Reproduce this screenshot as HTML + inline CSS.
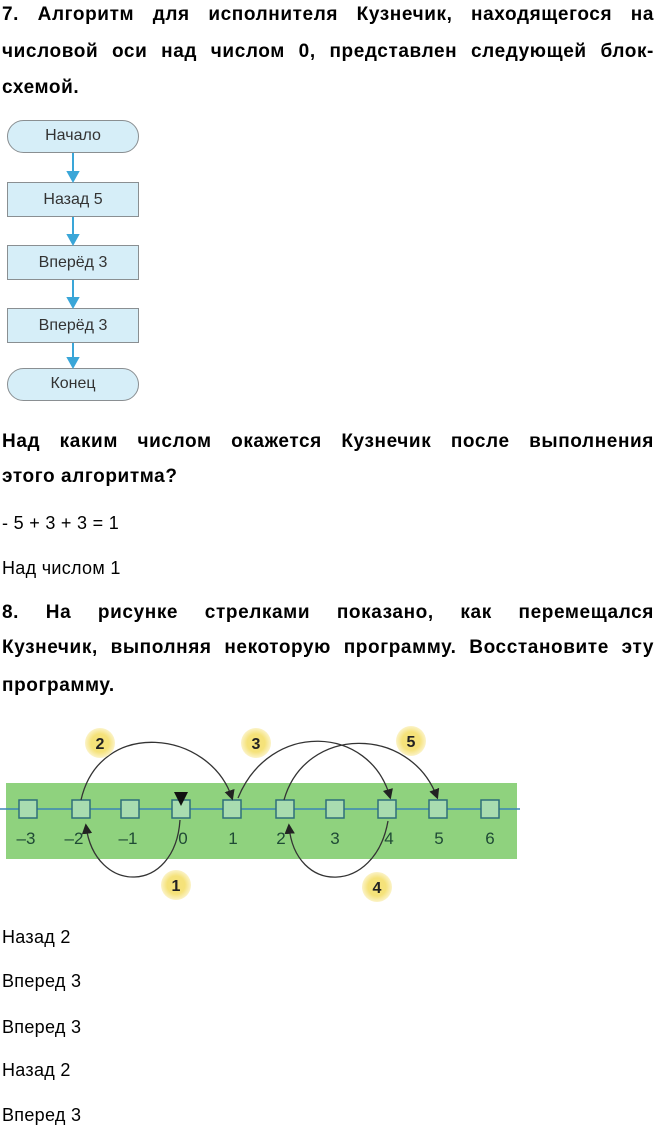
<!DOCTYPE html>
<html><head><meta charset="utf-8"><style>
body{margin:0;width:656px;height:1130px;background:#fff;position:relative;overflow:hidden;font-family:"Liberation Sans","DejaVu Sans",sans-serif;color:#000}
.l{position:absolute;left:2px;width:652px;height:24px;line-height:24px;white-space:nowrap}
.b{font-weight:bold;font-size:19px;letter-spacing:0.6px}
.j{text-align:justify;text-align-last:justify;white-space:normal}
.n{font-size:18px;letter-spacing:0.3px}
.fc{position:absolute;left:7px;width:132px;background:#d6eef8;border:1.5px solid #8a8f92;box-sizing:border-box;text-align:center;font-size:16px;color:#333}
</style></head><body>
<div class="l b j" style="top:3px">7. Алгоритм для исполнителя Кузнечик, находящегося на</div>
<div class="l b j" style="top:40px">числовой оси над числом 0, представлен следующей блок-</div>
<div class="l b" style="top:76px">схемой.</div>

<div class="fc" style="top:120px;height:33px;line-height:30px;border-radius:17px">Начало</div>
<div class="fc" style="top:182px;height:35px;line-height:33px">Назад 5</div>
<div class="fc" style="top:245px;height:35px;line-height:33px">Вперёд 3</div>
<div class="fc" style="top:308px;height:35px;line-height:33px">Вперёд 3</div>
<div class="fc" style="top:368px;height:33px;line-height:30px;border-radius:17px">Конец</div>
<svg style="position:absolute;left:0;top:0" width="160" height="420">
<g stroke="#3aa6d8" stroke-width="2" fill="#3aa6d8">
<line x1="73" y1="153" x2="73" y2="176"/><path d="M68 172 L78 172 L73 181Z"/>
<line x1="73" y1="217" x2="73" y2="239"/><path d="M68 235 L78 235 L73 244Z"/>
<line x1="73" y1="280" x2="73" y2="302"/><path d="M68 298 L78 298 L73 307Z"/>
<line x1="73" y1="343" x2="73" y2="362"/><path d="M68 358 L78 358 L73 367Z"/>
</g></svg>

<div class="l b j" style="top:430px">Над каким числом окажется Кузнечик после выполнения</div>
<div class="l b" style="top:465px">этого алгоритма?</div>
<div class="l n" style="top:511px">- 5 + 3 + 3 = 1</div>
<div class="l n" style="top:556px">Над числом 1</div>
<div class="l b j" style="top:601px">8. На рисунке стрелками показано, как перемещался</div>
<div class="l b j" style="top:636px">Кузнечик, выполняя некоторую программу. Восстановите эту</div>
<div class="l b" style="top:674px">программу.</div>

<svg style="position:absolute;left:0;top:720px" width="520" height="190" font-family="Liberation Sans, sans-serif">
<defs><marker id="a" markerWidth="8" markerHeight="8" refX="6" refY="4" orient="auto"><path d="M0 0 L8 4 L0 8Z" fill="#222"/></marker>
<radialGradient id="y"><stop offset="0.6" stop-color="#f5e27a"/><stop offset="1" stop-color="#fbf3c8"/></radialGradient></defs>
<rect x="6" y="63" width="511" height="76" fill="#8fd27e"/>
<line x1="0" y1="89" x2="520" y2="89" stroke="#3c86b5" stroke-width="1.5"/>
<g fill="#a9dcb0" stroke="#2f6f7a" stroke-width="1.5">
<rect x="19" y="80" width="18" height="18"/><rect x="72" y="80" width="18" height="18"/><rect x="121" y="80" width="18" height="18"/><rect x="172" y="80" width="18" height="18"/><rect x="223" y="80" width="18" height="18"/><rect x="276" y="80" width="18" height="18"/><rect x="326" y="80" width="18" height="18"/><rect x="378" y="80" width="18" height="18"/><rect x="429" y="80" width="18" height="18"/><rect x="481" y="80" width="18" height="18"/>
</g>
<path d="M174 72 L188 72 L181 86Z" fill="#111"/>
<g font-size="17" fill="#1f4a35" text-anchor="middle">
<text x="26" y="124">–3</text><text x="74" y="124">–2</text><text x="128" y="124">–1</text><text x="183" y="124">0</text><text x="233" y="124">1</text><text x="281" y="124">2</text><text x="335" y="124">3</text><text x="389" y="124">4</text><text x="439" y="124">5</text><text x="490" y="124">6</text>
</g>
<g fill="none" stroke="#333" stroke-width="1.3" marker-end="url(#a)">
<path d="M180 100 C175 175 95 175 86 106"/>
<path d="M81 80 C100 -3 210 10 232 78"/>
<path d="M238 78 C270 0 370 5 390 77"/>
<path d="M388 101 C375 175 295 175 289 106"/>
<path d="M284 80 C305 5 410 5 437 77"/>
</g>
<g font-size="16" font-weight="bold" text-anchor="middle" fill="#222">
<circle cx="100" cy="23" r="15" fill="url(#y)"/><text x="100" y="29">2</text>
<circle cx="256" cy="23" r="15" fill="url(#y)"/><text x="256" y="29">3</text>
<circle cx="411" cy="21" r="15" fill="url(#y)"/><text x="411" y="27">5</text>
<circle cx="176" cy="165" r="15" fill="url(#y)"/><text x="176" y="171">1</text>
<circle cx="377" cy="167" r="15" fill="url(#y)"/><text x="377" y="173">4</text>
</g>
</svg>

<div class="l n" style="top:925px">Назад 2</div>
<div class="l n" style="top:969px">Вперед 3</div>
<div class="l n" style="top:1015px">Вперед 3</div>
<div class="l n" style="top:1058px">Назад 2</div>
<div class="l n" style="top:1103px">Вперед 3</div>
</body></html>
